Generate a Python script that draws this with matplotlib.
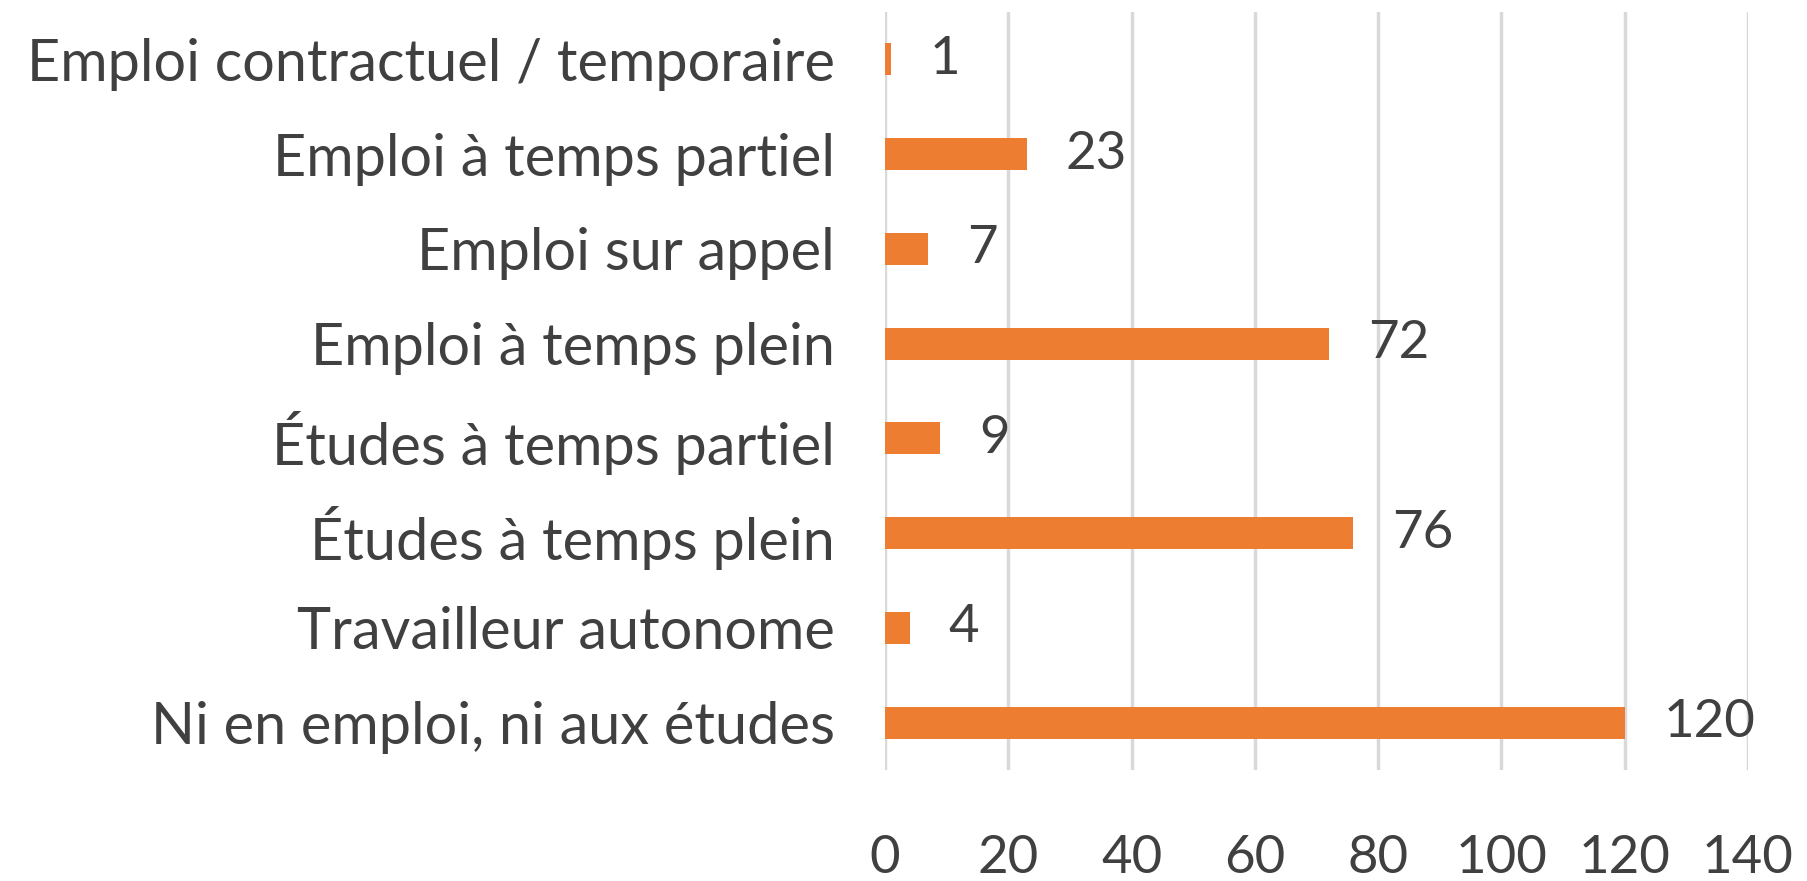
import matplotlib
matplotlib.use("Agg")
import matplotlib.pyplot as plt

categories = ["Emploi contractuel / temporaire", "Emploi à temps partiel",
              "Emploi sur appel", "Emploi à temps plein",
              "Études à temps partiel", "Études à temps plein",
              "Travailleur autonome", "Ni en emploi, ni aux études"]
values = [1, 23, 7, 72, 9, 76, 4, 120]
xticks = [0, 20, 40, 60, 80, 100, 120, 140]

plt.rcParams['font.family'] = ['Lato', 'DejaVu Sans']
txt = '#404040'

fig = plt.figure(figsize=(18.07, 8.81), dpi=100)
ax = fig.add_axes([885/1807, 1 - 770/881, (1748-885)/1807, (770-12)/881])

ypos = list(range(len(categories)))
ax.barh(ypos, values, height=0.34, color='#ED7D31', zorder=3)
for y, v in zip(ypos, values):
    ax.text(v + 6.3, y, str(v), va='center', ha='left', fontsize=38, color=txt)

ax.set_ylim(len(categories) - 0.5, -0.5)
ax.set_xlim(0, 140)
ax.set_yticks(ypos)
ax.set_yticklabels(categories, fontsize=41.5, color=txt)
ax.set_xticks(xticks)
ax.set_xticklabels([str(t) for t in xticks], fontsize=38, color=txt)
ax.tick_params(axis='y', length=0, pad=36)
ax.tick_params(axis='x', length=0, pad=47)
ax.grid(axis='x', color='#D9D9D9', linewidth=2.5, zorder=0)
for s in ax.spines.values():
    s.set_visible(False)

fig.savefig('out.png', dpi=100)
